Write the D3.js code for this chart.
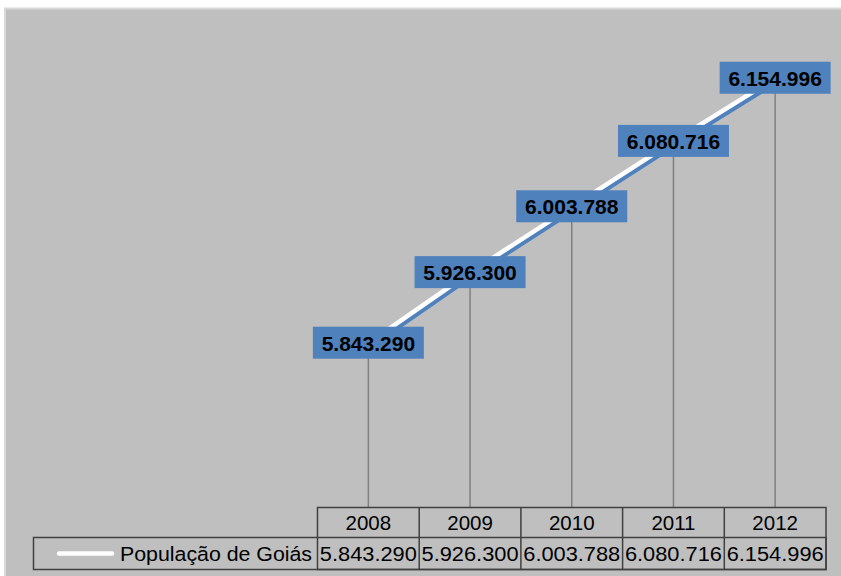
<!DOCTYPE html>
<html><head><meta charset="utf-8">
<script src="https://cdn.jsdelivr.net/npm/d3@7"></script>
<style>body{margin:0;background:#fff}svg{display:block}</style>
</head><body>
<script>
const years = ["2008","2009","2010","2011","2012"];
const values = [5843290, 5926300, 6003788, 6080716, 6154996];
const labels = ["5.843.290","5.926.300","6.003.788","6.080.716","6.154.996"];
const seriesName = "População de Goiás";

const W = 841, H = 576;
const svg = d3.select("body").append("svg").attr("width", W).attr("height", H);

// chart background
svg.append("rect").attr("x",5).attr("y",8.5).attr("width",W).attr("height",H)
  .attr("fill","#bfbfbf").attr("stroke","#d9d9d9").attr("stroke-width",2);

const tableLeft = 317.5, tableRight = 826, tableTop = 507.5, rowH = 30, row2H = 32;
const x = d3.scaleBand().domain(years).range([tableLeft, tableRight]);
const y = d3.scaleLinear().domain([5650000, 6200000]).range([tableTop, tableTop - 550000*0.00085]);
const cx = d => x(d) + x.bandwidth()/2;

// drop lines
svg.append("g").selectAll("line").data(years).join("line")
  .attr("x1", d=>cx(d)).attr("x2", d=>cx(d))
  .attr("y1", (d,i)=>y(values[i])).attr("y2", tableTop)
  .attr("stroke","#808080").attr("stroke-width",1.5);

const line = d3.line().x((d,i)=>cx(years[i])).y(d=>y(d));
// shadow
svg.append("path").datum(values).attr("d", line).attr("transform","translate(2.5,3)")
  .attr("fill","none").attr("stroke","#4f81bd").attr("stroke-width",4.5);
svg.append("path").datum(values).attr("d", line)
  .attr("fill","none").attr("stroke","#ffffff").attr("stroke-width",4.5);

const font = "Liberation Sans, Arial, sans-serif";
// labels
const lg = svg.append("g").selectAll("g").data(years).join("g")
  .attr("transform",(d,i)=>`translate(${cx(d)},${y(values[i])})`);
lg.append("rect").attr("x",-55.5).attr("y",-16.5).attr("width",111).attr("height",32).attr("fill","#4f81bd");
lg.append("text").attr("text-anchor","middle").attr("dy","0.36em")
  .attr("font-family",font).attr("font-weight","bold")
  .attr("font-size",21).attr("fill","#000").text((d,i)=>labels[i]);

// data table
const tg = svg.append("g").attr("stroke","#404040").attr("stroke-width",1.5).attr("fill","none");
const legendLeft = 33.5;
tg.append("rect").attr("x",tableLeft).attr("y",tableTop).attr("width",tableRight-tableLeft).attr("height",rowH+row2H);
tg.append("rect").attr("x",legendLeft).attr("y",tableTop+rowH).attr("width",tableRight-legendLeft).attr("height",row2H);
tg.selectAll("line.c").data(years.slice(1)).join("line")
  .attr("x1",d=>x(d)).attr("x2",d=>x(d)).attr("y1",tableTop).attr("y2",tableTop+rowH+row2H);

svg.append("g").selectAll("text").data(years).join("text")
  .attr("x",d=>cx(d)).attr("y",tableTop+rowH/2).attr("dy","0.36em").attr("text-anchor","middle")
  .attr("font-family",font).attr("font-size",20.5).attr("fill","#000").text(d=>d);
svg.append("g").selectAll("text").data(years).join("text")
  .attr("x",d=>cx(d)).attr("y",tableTop+rowH+row2H/2).attr("dy","0.36em").attr("text-anchor","middle")
  .attr("font-family",font).attr("font-size",20.5).attr("fill","#000").attr("textLength",97).attr("lengthAdjust","spacingAndGlyphs")
  .text((d,i)=>labels[i]);
// legend key
svg.append("line").attr("x1",59).attr("x2",112).attr("y1",tableTop+rowH+row2H/2).attr("y2",tableTop+rowH+row2H/2)
  .attr("stroke","#fff").attr("stroke-width",4.5).attr("stroke-linecap","round");
svg.append("text").attr("x",120).attr("y",tableTop+rowH+row2H/2).attr("dy","0.36em").attr("text-anchor","start")
  .attr("font-family",font).attr("font-size",20.5).attr("fill","#000").attr("textLength",192).attr("lengthAdjust","spacingAndGlyphs")
  .text(seriesName);
</script>
</body></html>
